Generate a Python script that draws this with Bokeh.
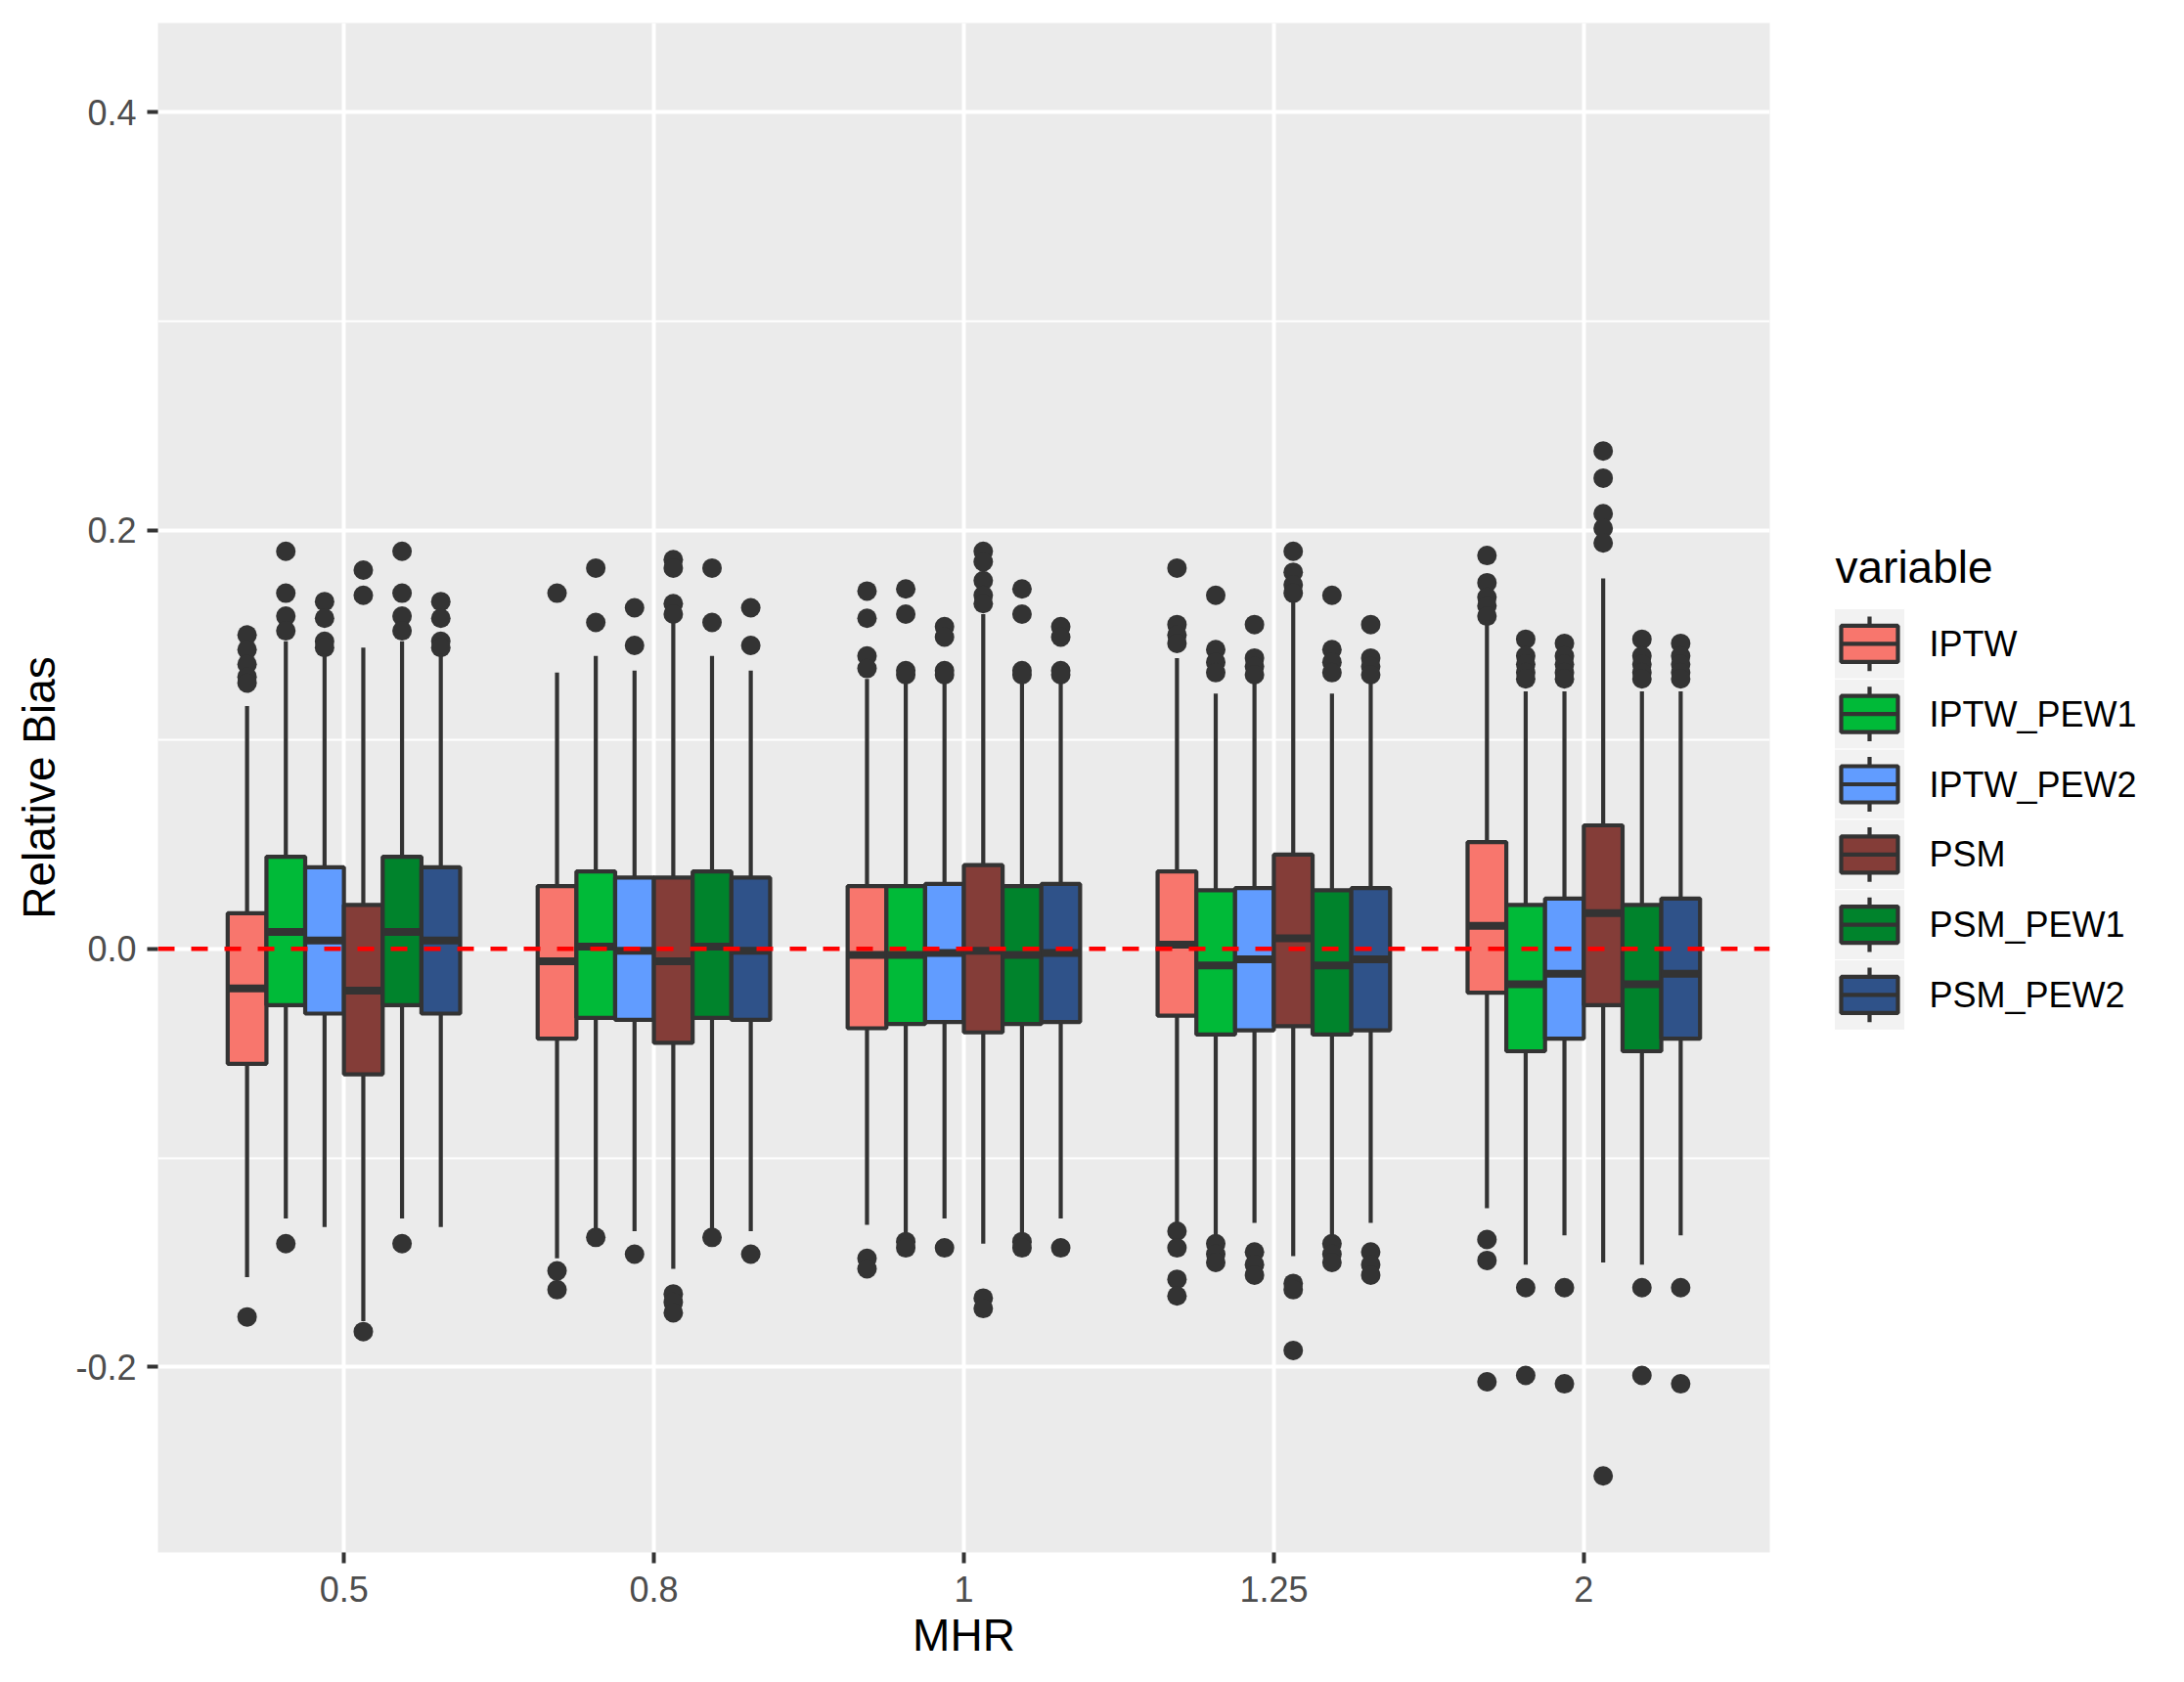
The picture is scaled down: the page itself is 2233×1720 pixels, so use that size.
from bokeh.plotting import figure
from bokeh.models import Range1d, FixedTicker, NumeralTickFormatter, Span, ColumnDataSource
from bokeh.layouts import row
from bokeh.core.properties import value
from bokeh.embed import file_html
from bokeh.resources import INLINE

# ---------------- data ----------------
MHR = ["0.5", "0.8", "1", "1.25", "2"]
variables = ["IPTW", "IPTW_PEW1", "IPTW_PEW2", "PSM", "PSM_PEW1", "PSM_PEW2"]
colors = ["#F8766D", "#00BA38", "#619CFF", "#843D38", "#00832C", "#2F5289"]

IPTW = dict(
    lo=[-0.157, -0.148, -0.132, -0.131, -0.124],
    q1=[-0.055, -0.043, -0.038, -0.032, -0.021],
    med=[-0.019, -0.006, -0.003, 0.002, 0.011],
    q3=[0.017, 0.030, 0.030, 0.037, 0.051],
    hi=[0.116, 0.132, 0.129, 0.139, 0.157],
)
IPTW_out = [
    [0.150, 0.143, 0.136, 0.130, 0.127, -0.176],
    [0.170, -0.154, -0.163],
    [0.171, 0.158, 0.140, 0.134, -0.148, -0.153],
    [0.182, 0.155, 0.150, 0.146, -0.135, -0.143, -0.158, -0.166],
    [0.188, 0.175, 0.168, 0.164, 0.159, -0.139, -0.149, -0.207],
]

IPTW_PEW1 = dict(
    lo=[-0.129, -0.135, -0.136, -0.137, -0.151],
    q1=[-0.027, -0.033, -0.036, -0.041, -0.049],
    med=[0.008, 0.001, -0.003, -0.008, -0.017],
    q3=[0.044, 0.037, 0.030, 0.028, 0.021],
    hi=[0.147, 0.140, 0.128, 0.122, 0.123],
)
IPTW_PEW1_out = [
    [0.190, 0.170, 0.159, 0.152, -0.141],
    [0.182, 0.156, -0.138],
    [0.172, 0.160, 0.133, 0.131, -0.140, -0.143],
    [0.169, 0.143, 0.137, 0.132, -0.141, -0.146, -0.150],
    [0.148, 0.140, 0.136, 0.132, 0.129, -0.162, -0.204],
]

IPTW_PEW2 = dict(
    lo=[-0.133, -0.135, -0.129, -0.131, -0.137],
    q1=[-0.031, -0.034, -0.035, -0.039, -0.043],
    med=[0.004, -0.001, -0.002, -0.005, -0.012],
    q3=[0.039, 0.034, 0.031, 0.029, 0.024],
    hi=[0.141, 0.133, 0.127, 0.127, 0.123],
)
IPTW_PEW2_out = [
    [0.166, 0.158, 0.147, 0.144],
    [0.163, 0.145, -0.146],
    [0.154, 0.149, 0.133, 0.131, -0.143],
    [0.155, 0.139, 0.135, 0.131, -0.145, -0.151, -0.156],
    [0.146, 0.140, 0.136, 0.132, 0.129, -0.162, -0.208],
]

PSM = dict(
    lo=[-0.178, -0.153, -0.141, -0.147, -0.150],
    q1=[-0.060, -0.045, -0.040, -0.037, -0.027],
    med=[-0.020, -0.006, -0.001, 0.005, 0.017],
    q3=[0.021, 0.034, 0.040, 0.045, 0.059],
    hi=[0.144, 0.157, 0.160, 0.166, 0.177],
)
PSM_out = [
    [0.181, 0.169, -0.183],
    [0.186, 0.182, 0.165, 0.160, -0.165, -0.169, -0.174],
    [0.190, 0.185, 0.176, 0.169, 0.165, -0.167, -0.172],
    [0.190, 0.180, 0.174, 0.170, -0.160, -0.163, -0.192],
    [0.238, 0.225, 0.208, 0.201, 0.194, -0.252],
]

PSM_PEW1 = dict(
    lo=[-0.129, -0.135, -0.136, -0.137, -0.151],
    q1=[-0.027, -0.033, -0.036, -0.041, -0.049],
    med=[0.008, 0.001, -0.003, -0.008, -0.017],
    q3=[0.044, 0.037, 0.030, 0.028, 0.021],
    hi=[0.147, 0.140, 0.128, 0.122, 0.123],
)
PSM_PEW1_out = [
    [0.190, 0.170, 0.159, 0.152, -0.141],
    [0.182, 0.156, -0.138],
    [0.172, 0.160, 0.133, 0.131, -0.140, -0.143],
    [0.169, 0.143, 0.137, 0.132, -0.141, -0.146, -0.150],
    [0.148, 0.140, 0.136, 0.132, 0.129, -0.162, -0.204],
]

PSM_PEW2 = dict(
    lo=[-0.133, -0.135, -0.129, -0.131, -0.137],
    q1=[-0.031, -0.034, -0.035, -0.039, -0.043],
    med=[0.004, -0.001, -0.002, -0.005, -0.012],
    q3=[0.039, 0.034, 0.031, 0.029, 0.024],
    hi=[0.141, 0.133, 0.127, 0.127, 0.123],
)
PSM_PEW2_out = [
    [0.166, 0.158, 0.147, 0.144],
    [0.163, 0.145, -0.146],
    [0.154, 0.149, 0.133, 0.131, -0.143],
    [0.155, 0.139, 0.135, 0.131, -0.145, -0.151, -0.156],
    [0.146, 0.140, 0.136, 0.132, 0.129, -0.162, -0.208],
]

y_ticks = [-0.2, 0.0, 0.2, 0.4]
y_minor = [-0.1, 0.1, 0.3]

stats = [IPTW, IPTW_PEW1, IPTW_PEW2, PSM, PSM_PEW1, PSM_PEW2]
outs = [IPTW_out, IPTW_PEW1_out, IPTW_PEW2_out, PSM_out, PSM_PEW1_out, PSM_PEW2_out]

# ---------------- style ----------------
FONT = "Liberation Sans"
DARK = "#333333"
BOX_W = 0.125
n_var = len(variables)
TOP = 23
FRAME_H = 1564
BOTTOM_MIN = 100

p = figure(
    frame_width=1648, frame_height=FRAME_H,
    x_range=Range1d(0.4, len(MHR) + 0.6),
    y_range=Range1d(-0.2886, 0.4426),
    output_backend="svg", toolbar_location=None,
    min_border_left=161, min_border_top=TOP, min_border_right=36,
    min_border_bottom=BOTTOM_MIN,
)
p.background_fill_color = "#EBEBEB"
p.border_fill_color = "white"
p.outline_line_color = None

# axes
p.xaxis.ticker = FixedTicker(ticks=list(range(1, len(MHR) + 1)))
p.xaxis.major_label_overrides = {i + 1: lab for i, lab in enumerate(MHR)}
p.yaxis.ticker = FixedTicker(ticks=y_ticks, minor_ticks=y_minor)
p.yaxis.formatter = NumeralTickFormatter(format="0.0")
p.xaxis.axis_label = "MHR"
p.yaxis.axis_label = "Relative Bias"
for ax in (p.xaxis[0], p.yaxis[0]):
    ax.axis_line_color = None
    ax.major_tick_line_color = DARK
    ax.major_tick_line_width = 4
    ax.major_tick_out = 11
    ax.major_tick_in = 0
    ax.minor_tick_line_color = None
    ax.major_label_text_font = FONT
    ax.major_label_text_font_size = "36px"
    ax.major_label_text_color = "#4D4D4D"
    ax.axis_label_text_font = FONT
    ax.axis_label_text_font_size = "46px"
    ax.axis_label_text_color = "black"
    ax.axis_label_text_font_style = "normal"
p.xaxis.major_label_standoff = 13
p.xaxis.axis_label_standoff = 5
p.yaxis.major_label_standoff = 11
p.yaxis.axis_label_standoff = 8

# grids
p.xgrid.grid_line_color = "white"
p.xgrid.grid_line_width = 4
p.ygrid.grid_line_color = "white"
p.ygrid.grid_line_width = 4
p.ygrid.minor_grid_line_color = "white"
p.ygrid.minor_grid_line_width = 2

# boxplots
for j, (var, col, st, out) in enumerate(zip(variables, colors, stats, outs)):
    off = (j - (n_var - 1) / 2) * BOX_W
    xs = [i + 1 + off for i in range(len(MHR))]
    src = ColumnDataSource(dict(
        x=xs,
        xl=[x - BOX_W / 2 for x in xs],
        xr=[x + BOX_W / 2 for x in xs],
        lo=st["lo"], q1=st["q1"], med=st["med"], q3=st["q3"], hi=st["hi"],
    ))
    ox, oy = [], []
    for i, vals in enumerate(out):
        ox += [xs[i]] * len(vals)
        oy += vals
    p.scatter(ox, oy, size=20, color=DARK, line_width=0)
    p.segment(x0="x", y0="lo", x1="x", y1="hi", source=src, line_color=DARK, line_width=4.2)
    p.vbar(x="x", width=BOX_W, bottom="q1", top="q3", source=src,
           fill_color=col, line_color=DARK, line_width=4.2)
    p.segment(x0="xl", y0="med", x1="xr", y1="med", source=src,
              line_color=DARK, line_width=8, line_cap="butt")

p.add_layout(Span(location=0, dimension="width", line_color="#FF0000",
                  line_width=4.5, line_dash="17 17"))

# ---------------- legend (separate panel, y in page pixels) ----------------
LW = 2233 - (161 + 1648 + 36) - 4
lg = figure(frame_width=LW, frame_height=FRAME_H,
            x_range=Range1d(0, LW), y_range=Range1d(TOP + FRAME_H, TOP),
            min_border_left=0, min_border_right=0, min_border_top=TOP,
            min_border_bottom=BOTTOM_MIN,
            toolbar_location=None, output_backend="svg",
            x_axis_type=None, y_axis_type=None)
lg.outline_line_color = None
lg.background_fill_color = "white"
lg.border_fill_color = "white"
lg.grid.visible = False

key_x, key_w, key_h, key_top = 66, 72, 71.8, 622
centers = [key_top + key_h * (k + 0.5) for k in range(n_var)]
lg.rect(x=key_x, y=centers, width=key_w, height=key_h, fill_color="#F2F2F2",
        line_color="white", line_width=1)
lg.segment(x0=key_x, y0=[c - key_h / 2 + 8 for c in centers], x1=key_x,
           y1=[c + key_h / 2 - 8 for c in centers], line_color=DARK, line_width=4.2)
lg.rect(x=key_x, y=centers, width=58, height=37, fill_color=colors,
        line_color=DARK, line_width=4.2)
lg.segment(x0=key_x - 29, y0=centers, x1=key_x + 29, y1=centers,
           line_color=DARK, line_width=4.2)
lg.text(x=127, y=centers, text=variables, text_baseline="middle", text_align="left",
        text_font=value(FONT), text_font_size="36px", text_color="black")
lg.text(x=[31], y=[579], text=["variable"], text_baseline="middle", text_align="left",
        text_font=value(FONT), text_font_size="46px", text_color="black")

layout = row(p, lg)
open("out.html", "w").write(file_html(layout, INLINE))
